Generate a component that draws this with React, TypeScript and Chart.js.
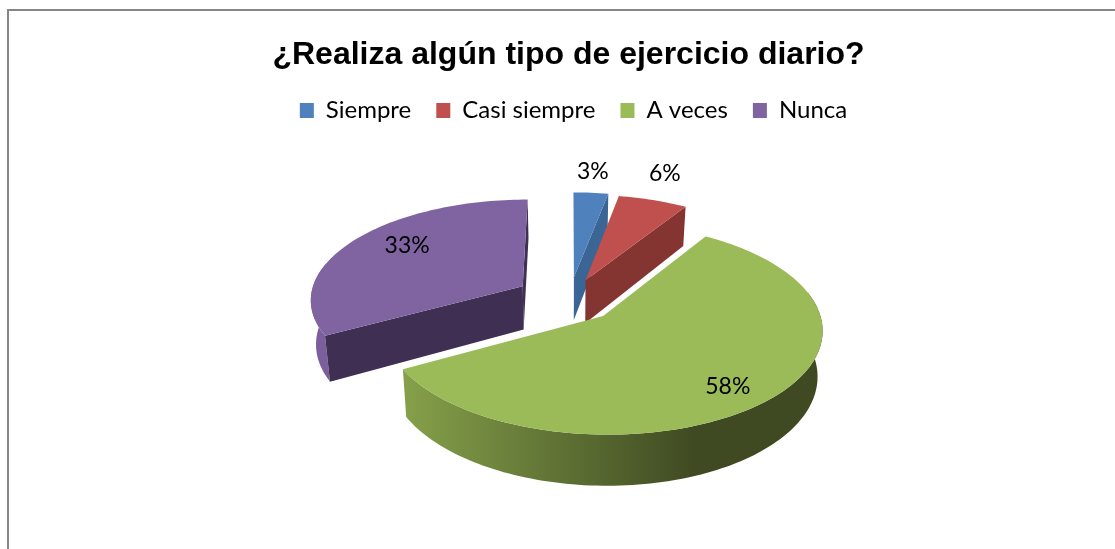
import React, { useEffect, useRef } from "react";
import { Chart, registerables } from "chart.js";

Chart.register(...registerables);

const titleText = "¿Realiza algún tipo de ejercicio diario?";
const categories = ["Siempre", "Casi siempre", "A veces", "Nunca"];
const values = [3, 6, 58, 33];
const topColors = ["#4F81BD", "#C0504D", "#9BBB59", "#8064A2"];
const cutColors = ["#3A6595", "#843532", "#6F8A3C", "#3F2F52"];
const wallFrom = ["#3A6595", "#843532", "#85A04A", "#7A5F9C"];
const wallTo = ["#3A6595", "#843532", "#3F4A22", "#7A5F9C"];
const labelReach = [1.29, 1.36, 0.81, 0.74];
const labelTurn = [-0.01, -0.04, 0.06, 0.11];
const sliceOffsets = [41, 38, 41, 47];
const drawOrder = [3, 0, 1, 2];

const view = { b: 213, a: 100, k: 0.12, depth: 44, taper: 0.98, shiftX: 1, shiftY: -45 };
const labelFont = "23px Lato";

const pie3d = {
  id: "pie3d",
  afterLayout(chart: any) {
    const lg = chart.legend;
    lg.left += 5;
    lg.right += 5;
    lg.top -= 7;
    lg.bottom -= 7;
  },
  beforeDraw(chart: any) {
    const { ctx } = chart;
    ctx.save();
    ctx.fillStyle = "#fff";
    ctx.fillRect(0, 0, chart.width, chart.height);
    ctx.strokeStyle = "#868686";
    ctx.lineWidth = 2;
    ctx.strokeRect(8, 10, chart.width + 20, chart.height + 20);
    ctx.restore();
  },
  beforeDatasetDraw(chart: any) {
    const { ctx } = chart;
    const meta = chart.getDatasetMeta(0);
    const ref = meta.data[0];
    const cx = ref.x + view.shiftX;
    const cy = ref.y + view.shiftY;
    const R = ref.outerRadius;
    const proj = (u: number, v: number, down = 0) => {
      const w = 1 - view.k * v;
      const scale = down ? view.taper : 1;
      return [cx + (scale * view.b * u) / w, cy + (view.a * v) / w + (down * view.depth) / w];
    };
    const poly = (p: number[][]) => {
      ctx.beginPath();
      p.forEach((q, j) => (j ? ctx.lineTo(q[0], q[1]) : ctx.moveTo(q[0], q[1])));
      ctx.closePath();
      ctx.fill();
    };
    drawOrder.forEach((i) => {
      const arc = meta.data[i];
      const s = arc.startAngle;
      const e = arc.endAngle;
      const mid = (s + e) / 2;
      const off = arc.options.offset / R;
      const ou = off * Math.cos(mid);
      const ov = off * Math.sin(mid);
      const rim = (t: number, down = 0) => proj(ou + Math.cos(t), ov + Math.sin(t), down);
      const apex = (down = 0) => proj(ou, ov, down);
      const steps = Math.max(6, Math.ceil((e - s) * 40));
      const angle = (n: number) => s + ((e - s) * n) / steps;

      const grad = ctx.createLinearGradient(cx - 165, 0, cx + 125, 0);
      grad.addColorStop(0, wallFrom[i]);
      grad.addColorStop(1, wallTo[i]);
      ctx.fillStyle = grad;
      const upper: number[][] = [];
      const lower: number[][] = [];
      for (let n = 0; n <= steps; n++) {
        const t = angle(n);
        if (Math.sin(t) < -0.25) continue;
        upper.push(rim(t));
        lower.unshift(rim(t, 1));
      }
      if (upper.length > 1) poly([...upper, ...lower]);

      const c = rim(mid);
      [s, e].forEach((t) => {
        const A = apex();
        const B = rim(t);
        const dx = B[0] - A[0];
        if (Math.abs(dx) < 0.5) return;
        const lineY = A[1] + ((B[1] - A[1]) * (c[0] - A[0])) / dx;
        if (c[1] >= lineY) return;
        ctx.fillStyle = cutColors[i];
        poly([A, B, rim(t, 1), apex(1)]);
      });

      ctx.fillStyle = topColors[i];
      const top = [apex()];
      for (let n = 0; n <= steps; n++) top.push(rim(angle(n)));
      poly(top);
    });

    ctx.save();
    ctx.fillStyle = "#000";
    ctx.font = labelFont;
    ctx.textAlign = "center";
    ctx.textBaseline = "middle";
    meta.data.forEach((arc: any, i: number) => {
      const mid = (arc.startAngle + arc.endAngle) / 2;
      const off = arc.options.offset / R;
      const f = labelReach[i];
      const t = mid + labelTurn[i];
      const q = proj(off * Math.cos(mid) + f * Math.cos(t), off * Math.sin(mid) + f * Math.sin(t));
      ctx.fillText(`${values[i]}%`, q[0], q[1]);
    });
    ctx.restore();
    return false;
  },
};

export default function App() {
  const ref = useRef<HTMLCanvasElement>(null);
  useEffect(() => {
    const chart = new Chart(ref.current as HTMLCanvasElement, {
      type: "pie",
      data: {
        labels: categories,
        datasets: [
          {
            data: values,
            backgroundColor: topColors,
            borderWidth: 0,
            offset: sliceOffsets,
          },
        ],
      },
      plugins: [pie3d],
      options: {
        animation: false,
        responsive: false,
        layout: { padding: { left: 22, right: 0, top: 36, bottom: 0 } },
        plugins: {
          tooltip: { enabled: false },
          title: {
            display: true,
            text: titleText,
            color: "#000",
            font: { family: '"Liberation Sans"', size: 32, weight: "bold" },
            padding: { top: 0, bottom: 6 },
          },
          legend: {
            display: true,
            position: "top",
            labels: {
              color: "#000",
              boxWidth: 14,
              boxHeight: 15,
              padding: 25,
              font: { family: "Lato", size: 24 },
            },
          },
        },
      } as any,
    });
    return () => chart.destroy();
  }, []);
  return (
    <canvas
      ref={ref}
      width={1115}
      height={549}
      style={{ position: "fixed", left: 0, top: 0, width: 1115, height: 549 }}
    />
  );
}
